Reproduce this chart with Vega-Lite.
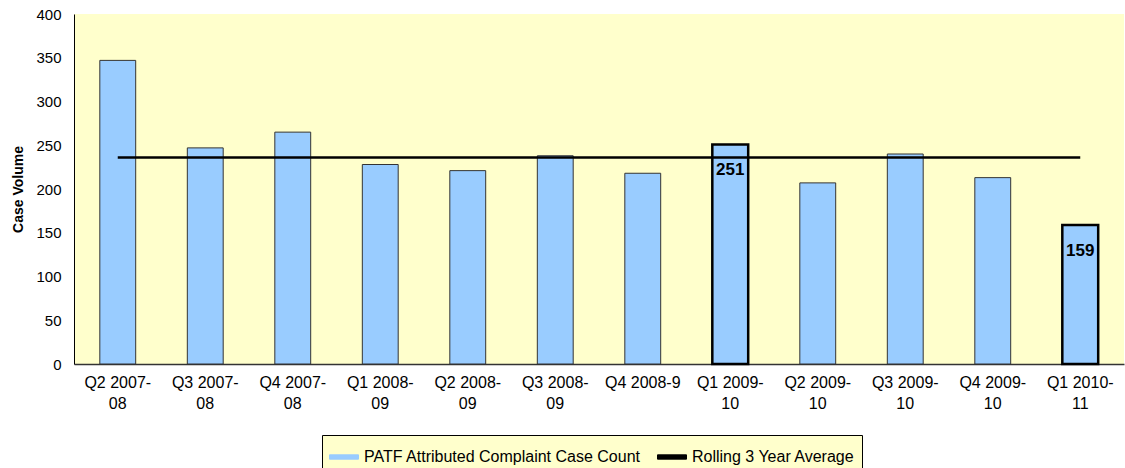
{
  "$schema": "https://vega.github.io/schema/vega-lite/v6.json",
  "width": 1050,
  "height": 350,
  "autosize": {"type": "none"},
  "padding": {"left": 74, "top": 14, "right": 1, "bottom": 104},
  "background": "white",
  "config": {
    "view": {"fill": "#ffffcc", "stroke": null},
    "font": "Liberation Sans"
  },
  "data": {
    "values": [
      {"quarter": "Q2 2007-08", "count": 347, "avg": 236, "highlight": false},
      {"quarter": "Q3 2007-08", "count": 247, "avg": 236, "highlight": false},
      {"quarter": "Q4 2007-08", "count": 265, "avg": 236, "highlight": false},
      {"quarter": "Q1 2008-09", "count": 228, "avg": 236, "highlight": false},
      {"quarter": "Q2 2008-09", "count": 221, "avg": 236, "highlight": false},
      {"quarter": "Q3 2008-09", "count": 238, "avg": 236, "highlight": false},
      {"quarter": "Q4 2008-9", "count": 218, "avg": 236, "highlight": false},
      {"quarter": "Q1 2009-10", "count": 251, "avg": 236, "highlight": true},
      {"quarter": "Q2 2009-10", "count": 207, "avg": 236, "highlight": false},
      {"quarter": "Q3 2009-10", "count": 240, "avg": 236, "highlight": false},
      {"quarter": "Q4 2009-10", "count": 213, "avg": 236, "highlight": false},
      {"quarter": "Q1 2010-11", "count": 159, "avg": 236, "highlight": true}
    ]
  },
  "encoding": {
    "x": {
      "field": "quarter",
      "type": "nominal",
      "sort": null,
      "scale": {"paddingInner": 0.59, "paddingOuter": 0.295},
      "axis": {
        "title": null,
        "labelAngle": 0,
        "labelFontSize": 16,
        "labelColor": "black",
        "labelLineHeight": 21,
        "labelPadding": 10,
        "labelExpr": "length(datum.value) > 9 ? [slice(datum.value, 0, 8), slice(datum.value, 8)] : datum.value",
        "ticks": false,
        "domainColor": "#333333",
        "domainWidth": 1.5
      }
    }
  },
  "layer": [
    {
      "mark": {"type": "bar", "stroke": "#333333"},
      "encoding": {
        "y": {
          "field": "count",
          "type": "quantitative",
          "scale": {"domain": [0, 400]},
          "axis": {
            "title": "Case Volume",
            "titleFontSize": 14,
            "titleFontWeight": "bold",
            "titleColor": "black",
            "titlePadding": 10,
            "values": [0, 50, 100, 150, 200, 250, 300, 350, 400],
            "labelFontSize": 15,
            "labelColor": "black",
            "labelPadding": 13,
            "ticks": false,
            "grid": false,
            "domainColor": "black"
          }
        },
        "color": {
          "datum": "PATF Attributed Complaint Case Count",
          "type": "nominal",
          "scale": {
            "domain": ["PATF Attributed Complaint Case Count", "Rolling 3 Year Average"],
            "range": ["#99ccff", "#000000"]
          },
          "legend": {
            "title": null,
            "orient": "none",
            "legendX": 248,
            "legendY": 421,
            "direction": "horizontal",
            "fillColor": "#ffffcc",
            "strokeColor": "black",
            "padding": 7,
            "labelFontSize": 16,
            "labelColor": "black",
            "labelLimit": 500,
            "labelOffset": 5,
            "columnPadding": 14,
            "symbolSize": 841,
            "symbolType": "M-1,-0.15H1V0.15H-1Z",
            "symbolStrokeColor": "black",
            "symbolStrokeWidth": 1,
            "symbolOpacity": 1
          }
        },
        "stroke": {"condition": {"test": "datum.highlight", "value": "#000000"}, "value": "#333333"},
        "strokeWidth": {"condition": {"test": "datum.highlight", "value": 2.5}, "value": 1}
      }
    },
    {
      "mark": {"type": "line", "strokeWidth": 2.5},
      "encoding": {
        "y": {"field": "avg", "type": "quantitative"},
        "color": {"datum": "Rolling 3 Year Average", "type": "nominal", "legend": null}
      }
    },
    {
      "transform": [{"filter": "datum.highlight"}],
      "mark": {"type": "text", "fontSize": 17, "fontWeight": "bold", "color": "black", "baseline": "middle", "dy": 26},
      "encoding": {
        "y": {"field": "count", "type": "quantitative"},
        "text": {"field": "count", "type": "quantitative"}
      }
    }
  ]
}
